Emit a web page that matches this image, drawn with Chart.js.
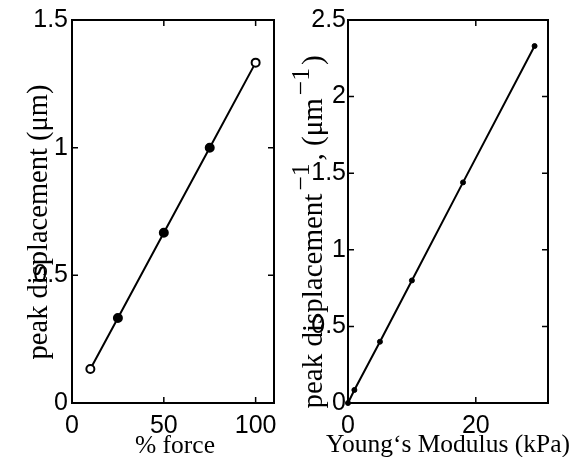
<!DOCTYPE html>
<html>
<head>
<meta charset="utf-8">
<script src="https://cdn.jsdelivr.net/npm/chart.js@4.4.1/dist/chart.umd.min.js"></script>
<style>
  body { margin: 0; background: #fff; }
  .panel { position: absolute; top: 0; width: 288px; height: 457px; }
</style>
</head>
<body>
<div class="panel" style="left:0"><canvas id="force-chart" width="288" height="457"></canvas></div>
<div class="panel" style="left:288px"><canvas id="modulus-chart" width="288" height="457"></canvas></div>
<script>
// left panel: displacement against applied force
const forcePercent = [10, 25, 50, 75, 100];
const peakDisplacement = [0.133, 0.333, 0.667, 1.0, 1.333];
const forceTicks = [0, 50, 100];
const displacementTicks = [0, 0.5, 1, 1.5];

// right panel: inverse displacement against stiffness
const youngsModulus = [0, 1, 5, 10, 18, 29.2];
const inverseDisplacement = [0, 0.085, 0.4, 0.8, 1.44, 2.33];
const modulusTicks = [0, 20];
const inverseTicks = [0, 0.5, 1, 1.5, 2, 2.5];

const tickFont = { family: "'Liberation Sans', Arial, sans-serif", size: 25 };
const titleFamily = "'Liberation Serif', 'Times New Roman', serif";

const toPoints = (xs, ys) => xs.map((x, i) => ({ x: x, y: ys[i] }));
const fixedTicks = values => scale => {
    scale.ticks = values.map(v => ({ value: v }));
};

// box round the plot, inward ticks on all sides, and the axis titles
const framePlugin = {
    id: "frame",
    afterDraw(chart, args, opts) {
        const { ctx, chartArea: a, scales } = chart;
        ctx.save();
        ctx.strokeStyle = "#000";
        ctx.lineWidth = 2;
        ctx.strokeRect(a.left, a.top, a.right - a.left, a.bottom - a.top);

        ctx.lineWidth = 1.5;
        ctx.beginPath();
        scales.x.ticks.forEach(t => {
            const px = scales.x.getPixelForValue(t.value);
            ctx.moveTo(px, a.bottom); ctx.lineTo(px, a.bottom - 6);
            ctx.moveTo(px, a.top); ctx.lineTo(px, a.top + 6);
        });
        scales.y.ticks.forEach(t => {
            const py = scales.y.getPixelForValue(t.value);
            ctx.moveTo(a.left, py); ctx.lineTo(a.left + 6, py);
            ctx.moveTo(a.right, py); ctx.lineTo(a.right - 6, py);
        });
        ctx.stroke();

        ctx.fillStyle = "#000";
        const font = s => s + "px " + titleFamily;

        // x title
        ctx.font = font(opts.xSize);
        ctx.textAlign = "center";
        ctx.textBaseline = "alphabetic";
        ctx.fillText(opts.xTitle, (a.left + a.right) / 2 + opts.xShift, opts.xBaseline);

        // y title, rotated, with superscript parts
        const size = opts.ySize;
        const supSize = size * 0.88;
        const gap = 3;
        const parts = opts.yTitle;
        let total = 0;
        parts.forEach(p => {
            ctx.font = font(p.sup ? supSize : size);
            p.w = ctx.measureText(p.text).width + (p.sup ? 2 * gap : 0);
            total += p.w;
        });
        ctx.translate(opts.yBaseline, opts.yCenter);
        ctx.rotate(-Math.PI / 2);
        ctx.textAlign = "left";
        let cx = -total / 2;
        parts.forEach(p => {
            ctx.font = font(p.sup ? supSize : size);
            ctx.fillText(p.text, cx + (p.sup ? gap : 0), p.sup ? -size * 0.45 : 0);
            cx += p.w;
        });
        ctx.restore();
    }
};

function makeScales(xMax, xTicks, yMax, yTicks, yWidth, yPad) {
    const axis = {
        type: "linear",
        grid: { display: false, drawTicks: false },
        border: { display: false },
        ticks: {
            font: tickFont,
            color: "#000",
            autoSkip: false,
            maxRotation: 0,
            callback: v => String(v)
        }
    };
    return {
        x: {
            ...axis,
            min: 0,
            max: xMax,
            afterBuildTicks: fixedTicks(xTicks),
            afterFit: s => { s.height = 54; },
            ticks: { ...axis.ticks, padding: 8 }
        },
        y: {
            ...axis,
            min: 0,
            max: yMax,
            afterBuildTicks: fixedTicks(yTicks),
            afterFit: s => { s.width = yWidth; },
            ticks: { ...axis.ticks, padding: yPad }
        }
    };
}

const forceChart = new Chart(document.getElementById("force-chart"), {
    type: "scatter",
    data: {
        datasets: [{
            data: toPoints(forcePercent, peakDisplacement),
            showLine: true,
            borderColor: "#000",
            borderWidth: 2,
            pointRadius: 4,
            pointBorderWidth: 2,
            pointBorderColor: "#000",
            pointBackgroundColor: ["#fff", "#000", "#000", "#000", "#fff"],
            clip: false
        }]
    },
    options: {
        responsive: false,
        animation: false,
        layout: { padding: { left: 0, right: 14, top: 20, bottom: 0 } },
        scales: makeScales(110, forceTicks, 1.5, displacementTicks, 72, 4),
        plugins: {
            legend: { display: false },
            tooltip: { enabled: false },
            frame: {
                xSize: 25.5,
                xTitle: "% force",
                xShift: 2,
                xBaseline: 453,
                ySize: 28.5,
                yTitle: [{ text: "peak displacement (μm)" }],
                yBaseline: 47,
                yCenter: 222
            }
        }
    },
    plugins: [framePlugin]
});

const modulusChart = new Chart(document.getElementById("modulus-chart"), {
    type: "scatter",
    data: {
        datasets: [{
            data: toPoints(youngsModulus, inverseDisplacement),
            showLine: true,
            borderColor: "#000",
            borderWidth: 2,
            pointRadius: 2.5,
            pointBorderWidth: 1,
            pointBorderColor: "#000",
            pointBackgroundColor: "#000",
            clip: false
        }]
    },
    options: {
        responsive: false,
        animation: false,
        layout: { padding: { left: 0, right: 28, top: 20, bottom: 0 } },
        scales: makeScales(31.3, modulusTicks, 2.5, inverseTicks, 60, 2),
        plugins: {
            legend: { display: false },
            tooltip: { enabled: false },
            frame: {
                xSize: 25.5,
                xTitle: "Young‘s Modulus (kPa)",
                xShift: 0,
                xBaseline: 452,
                ySize: 29,
                yTitle: [
                    { text: "peak displacement" },
                    { text: "−1", sup: true },
                    { text: ", (μm" },
                    { text: "−1", sup: true },
                    { text: ")" }
                ],
                yBaseline: 34,
                yCenter: 232
            }
        }
    },
    plugins: [framePlugin]
});
</script>
</body>
</html>
